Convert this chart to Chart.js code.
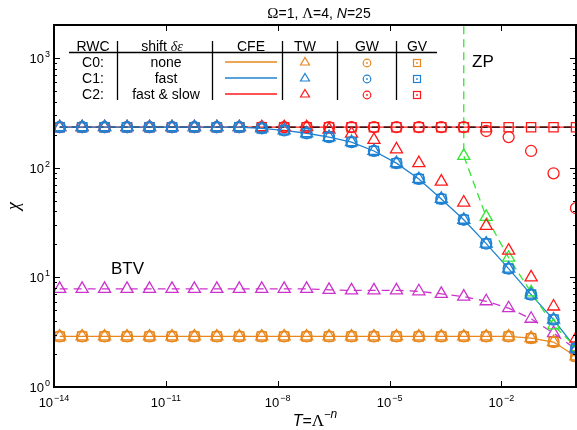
<!DOCTYPE html>
<html lang="en">
<head>
<meta charset="UTF-8">
<title>chi versus T</title>
<script src="https://cdn.jsdelivr.net/npm/chart.js"></script>
<style>
  html, body { margin: 0; padding: 0; background: #fff; overflow: hidden; }
  #wrap { width: 577px; height: 430px; }
  canvas { display: block; }
</style>
</head>
<body>
<div id="wrap"><canvas id="chiChart" width="577" height="430"></canvas></div>
<script>
// temperatures T = Lambda^-n  (n = 23 ... 0)
const T = [1.42e-14, 5.68e-14, 2.27e-13, 9.09e-13, 3.64e-12, 1.46e-11, 5.82e-11, 2.33e-10,
           9.31e-10, 3.73e-9, 1.49e-8, 5.96e-8, 2.38e-7, 9.54e-7, 3.81e-6, 1.53e-5,
           6.10e-5, 2.44e-4, 9.77e-4, 3.91e-3, 1.56e-2, 6.25e-2, 0.25, 1];

// C0 (no shift): CFE line, TW/GW/GV on it
const chiC0 = [2.89, 2.89, 2.89, 2.89, 2.89, 2.89, 2.89, 2.89,
               2.89, 2.89, 2.89, 2.89, 2.89, 2.89, 2.89, 2.89,
               2.89, 2.89, 2.89, 2.89, 2.89, 2.79, 2.57, 1.90];
// C1 (fast)
const chiC1 = [234, 234, 234, 234, 234, 234, 234, 234,
               234, 228, 219, 206, 190, 171, 142, 110,
               78.9, 51.9, 33.5, 20.3, 12.0, 6.96, 4.12, 2.25];
// C2 (fast & slow): CFE and GV
const chiC2 = [234, 234, 234, 234, 234, 234, 234, 234,
               234, 234, 234, 234, 234, 234, 234, 234,
               234, 234, 234, 234, 234, 234, 234, 234];
const chiC2TW = [234, 234, 234, 234, 234, 234, 234, 234,
                 234, 234, 234, 234, 223, 204, 179, 147,
                 110, 74.6, 48.1, 29.5, 17.5, 10.0, 5.42, 2.77];
const chiC2GW = [234, 234, 234, 234, 234, 234, 234, 234,
                 234, 234, 234, 234, 234, 234, 234, 234,
                 234, 234, 234, 216, 190, 142, 88.9, 42.7];
// black dashed reference
const chiRef = [234, 234, 234, 234, 234, 234, 234, 234,
                234, 234, 234, 234, 234, 234, 234, 234,
                234, 234, 234, 234, 234, 234, 234, 234];
// BTV
const chiBTV = [7.85, 7.85, 7.85, 7.85, 7.85, 7.85, 7.85, 7.85,
                7.85, 7.85, 7.85, 7.85, 7.69, 7.60, 7.60, 7.60,
                7.46, 7.07, 6.68, 6.05, 5.23, 4.19, 3.10, 2.20];
// ZP (diverges at the pole, first point is off the chart)
const zpT = [9.77e-4, 9.77e-4, 3.91e-3, 1.56e-2, 6.25e-2, 0.25, 1];
const zpChi = [1e4, 128, 35.6, 15.1, 7.30, 3.64, 2.31];

const xTicks = [1e-14, 1e-11, 1e-8, 1e-5, 1e-2];
const xTickExp = ['\u221214', '\u221211', '\u22128', '\u22125', '\u22122'];
const yTicks = [1, 10, 100, 1000];
const yTickExp = ['0', '1', '2', '3'];

const rwcNames = ['C0:', 'C1:', 'C2:'];
const shiftNames = ['none', 'fast', 'fast & slow'];

const ORANGE = '#e8871e';
const BLUE = '#1f82d2';
const RED = '#ff1a1a';
const GREEN = '#33e633';
const MAGENTA = '#cc33cc';
const rowColors = [ORANGE, BLUE, RED];

const SANS = '"Liberation Sans", Arial, sans-serif';
const SERIF = '"Liberation Serif", "Times New Roman", serif';

function pts(xs, ys) {
  return xs.map((t, i) => ({ x: t, y: ys[i] }));
}

function lineSet(ys, color, order, dash) {
  return {
    data: pts(T, ys), borderColor: color, borderWidth: 1.3, borderDash: dash || [],
    pointRadius: 0, order: order, clip: 0
  };
}

function markSet(ys, color, style, r, order) {
  return {
    data: pts(T, ys), showLine: false, pointStyle: style, pointRadius: r,
    pointBorderColor: color, pointBackgroundColor: 'rgba(0,0,0,0)', pointBorderWidth: 1.3,
    order: order, clip: 0
  };
}

// text with a raised exponent
function powText(ctx, base, exp, x, y, align, size) {
  const es = Math.round(size * 0.7);
  ctx.font = size + 'px ' + SANS;
  const wb = ctx.measureText(base).width;
  ctx.font = es + 'px ' + SANS;
  const we = ctx.measureText(exp).width;
  let x0 = x;
  if (align === 'right') x0 = x - wb - we - 1;
  if (align === 'center') x0 = x - (wb + we + 1) / 2;
  ctx.textAlign = 'left';
  ctx.textBaseline = 'alphabetic';
  ctx.font = size + 'px ' + SANS;
  ctx.fillText(base, x0, y);
  ctx.font = es + 'px ' + SANS;
  ctx.fillText(exp, x0 + wb + 1, y - size * 0.45);
}

// draws consecutive pieces [text, font, dy]
function pieces(ctx, parts, x, y, align) {
  let w = 0;
  parts.forEach(p => { ctx.font = p[1]; w += ctx.measureText(p[0]).width; });
  let cx = align === 'center' ? x - w / 2 : x;
  ctx.textAlign = 'left';
  parts.forEach(p => {
    ctx.font = p[1];
    ctx.fillText(p[0], cx, y + (p[2] || 0));
    cx += ctx.measureText(p[0]).width;
  });
}

const decor = {
  id: 'decor',
  afterDraw(chart) {
    const { ctx, chartArea: a, scales: { x, y } } = chart;
    ctx.save();
    ctx.fillStyle = '#000';
    ctx.strokeStyle = '#000';

    // inner ticks
    ctx.lineWidth = 1;
    ctx.beginPath();
    xTicks.forEach(v => {
      const px = Math.round(x.getPixelForValue(v)) + 0.5;
      ctx.moveTo(px, a.bottom); ctx.lineTo(px, a.bottom - 6);
      ctx.moveTo(px, a.top); ctx.lineTo(px, a.top + 6);
    });
    for (let d = 1; d <= 1000; d *= 10) {
      for (let m = 1; m <= 9; m++) {
        const v = d * m;
        if (v > y.max) break;
        const py = Math.round(y.getPixelForValue(v)) + 0.5;
        const len = m === 1 ? 6 : 3;
        ctx.moveTo(a.left, py); ctx.lineTo(a.left + len, py);
        ctx.moveTo(a.right, py); ctx.lineTo(a.right - len, py);
      }
    }
    ctx.stroke();

    // frame
    ctx.lineWidth = 2;
    ctx.strokeRect(a.left, a.top, a.right - a.left, a.bottom - a.top);

    // tick labels
    xTicks.forEach((v, i) => powText(ctx, '10', xTickExp[i], x.getPixelForValue(v), a.bottom + 20, 'center', 13));
    yTicks.forEach((v, i) => powText(ctx, '10', yTickExp[i], a.left - 4, y.getPixelForValue(v) + 5, 'right', 13));

    // title and axis titles
    ctx.textBaseline = 'alphabetic';
    pieces(ctx, [['\u03A9', '15px ' + SERIF], ['=1, ', '14px ' + SANS], ['\u039B', '15px ' + SERIF],
                 ['=4, ', '14px ' + SANS], ['N', 'italic 14px ' + SANS], ['=25', '14px ' + SANS]],
           (a.left + a.right) / 2 + 4, 18, 'center');
    pieces(ctx, [['T', 'italic 16px ' + SANS], ['=', '16px ' + SANS], ['\u039B', '17px ' + SERIF],
                 ['\u2212', '11px ' + SANS, -8], ['n', 'italic 12px ' + SANS, -8]],
           (a.left + a.right) / 2, 426, 'center');
    ctx.save();
    ctx.translate(19, (a.top + a.bottom) / 2);
    ctx.rotate(-Math.PI / 2);
    ctx.font = 'italic 18px ' + SERIF;
    ctx.textAlign = 'center';
    ctx.fillText('\u03C7', 0, 0);
    ctx.restore();

    // curve labels
    ctx.font = '17px ' + SANS;
    ctx.textAlign = 'left';
    ctx.fillText('ZP', 472, 67);
    ctx.fillText('BTV', 111, 274);

    // table legend
    const colX = [93, 162, 251, 305, 367, 417];
    const hy = 50.5;
    ctx.font = '14px ' + SANS;
    ctx.textAlign = 'center';
    ctx.fillText('RWC', colX[0], hy);
    pieces(ctx, [['shift ', '14px ' + SANS], ['\u03B4\u03B5', 'italic 14px ' + SERIF]], colX[1], hy, 'center');
    ctx.textAlign = 'center';
    ctx.font = '14px ' + SANS;
    ctx.fillText('CFE', colX[2], hy);
    ctx.fillText('TW', colX[3], hy);
    ctx.fillText('GW', colX[4], hy);
    ctx.fillText('GV', colX[5], hy);

    ctx.lineWidth = 1.3;
    ctx.beginPath();
    ctx.moveTo(69, 52.5); ctx.lineTo(437, 52.5);
    [117.5, 212.5, 282.5, 337.5, 396.5].forEach(sx => { ctx.moveTo(sx, 41); ctx.lineTo(sx, 100); });
    ctx.stroke();

    rwcNames.forEach((nm, i) => {
      const by = 67 + i * 16;
      const cy = by - 5;
      ctx.fillStyle = '#000';
      ctx.font = '14px ' + SANS;
      ctx.textAlign = 'center';
      ctx.fillText(nm, colX[0], by);
      ctx.fillText(shiftNames[i], colX[1] + 4, by);
      const c = rowColors[i];
      ctx.strokeStyle = c;
      ctx.fillStyle = c;
      ctx.lineWidth = 1.6;
      ctx.beginPath(); ctx.moveTo(225, cy); ctx.lineTo(277, cy); ctx.stroke();
      ctx.lineWidth = 1.2;
      ctx.beginPath();
      ctx.moveTo(colX[3], cy - 4.5); ctx.lineTo(colX[3] + 4.5, cy + 3); ctx.lineTo(colX[3] - 4.5, cy + 3);
      ctx.closePath(); ctx.stroke();
      ctx.beginPath(); ctx.arc(colX[4], cy + 1, 3.8, 0, 2 * Math.PI); ctx.stroke();
      ctx.fillRect(colX[4] - 0.8, cy + 0.2, 1.6, 1.6);
      ctx.strokeRect(colX[5] - 3.5, cy - 2.5, 7, 7);
      ctx.fillRect(colX[5] - 0.8, cy + 0.2, 1.6, 1.6);
    });
    ctx.restore();
  }
};

new Chart(document.getElementById('chiChart'), {
  type: 'line',
  data: {
    datasets: [
      lineSet(chiC2, RED, 20),
      lineSet(chiRef, '#000', 19, [8, 4]),
      lineSet(chiC0, ORANGE, 18),
      lineSet(chiC1, BLUE, 17),
      Object.assign(markSet(chiBTV, MAGENTA, 'triangle', 7, 16), { showLine: true, borderColor: MAGENTA, borderWidth: 1.3, borderDash: [8, 6] }),
      {
        data: pts(zpT, zpChi), borderColor: GREEN, borderWidth: 1.3, borderDash: [8, 5],
        pointStyle: 'triangle', pointRadius: zpChi.map((v, i) => i === 0 ? 0 : 7),
        pointBorderColor: GREEN, pointBackgroundColor: 'rgba(0,0,0,0)', pointBorderWidth: 1.3,
        order: 15, clip: 0
      },
      markSet(chiC2, RED, 'rect', 6.5, 12),
      markSet(chiC2GW, RED, 'circle', 5.5, 11),
      markSet(chiC2TW, RED, 'triangle', 7, 10),
      markSet(chiC0, ORANGE, 'rect', 6.5, 9),
      markSet(chiC0, ORANGE, 'circle', 5.5, 8),
      markSet(chiC0, ORANGE, 'triangle', 7, 7),
      markSet(chiC1, BLUE, 'rect', 6.5, 6),
      markSet(chiC1, BLUE, 'circle', 5.5, 5),
      markSet(chiC1, BLUE, 'triangle', 7, 4)
    ]
  },
  options: {
    responsive: false,
    animation: false,
    events: [],
    layout: { autoPadding: false, padding: { left: 54, right: 1, top: 25, bottom: 43 } },
    scales: {
      x: { type: 'logarithmic', min: 1e-14, max: 1, display: false },
      y: { type: 'logarithmic', min: 1, max: 2000, display: false }
    },
    plugins: { legend: { display: false }, tooltip: { enabled: false } }
  },
  plugins: [decor]
});
</script>
</body>
</html>
